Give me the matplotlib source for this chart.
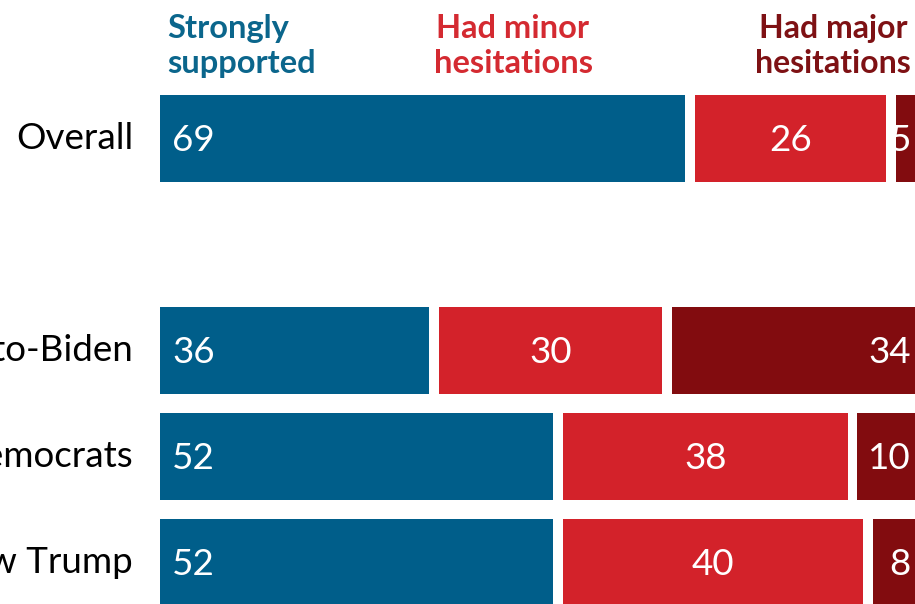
import matplotlib.pyplot as plt
import numpy as np

# rows, top to bottom (blank slot between Overall and the groups)
groups = ['Overall', 'Trump-to-Biden', 'Democrats', 'Voters who knew Trump']
row_pos = [0, 2, 3, 4]

strongly = [69, 36, 52, 52]
minor = [26, 30, 38, 40]
major = [5, 34, 10, 8]

headers = ['Strongly\nsupported', 'Had minor\nhesitations', 'Had major\nhesitations']

blue = '#005e8a'
red = '#d3222a'
dark_red = '#820c0f'
text_colors = ['#0b668c', '#d42a31', '#7e1114']

plt.rcParams['font.family'] = ['Lato', 'DejaVu Sans']

W, H = 915, 604
fig = plt.figure(figsize=(W / 100, H / 100), dpi=100)
left_px = 160
ax = fig.add_axes([left_px / W, 0, 1 - left_px / W, 1])

px_per_unit = 7.75
gap = 10 / px_per_unit
ax.set_xlim(0, (W - left_px) / px_per_unit)
ax.set_ylim(4 + (H - 562.5) / 106, -138.5 / 106)
ax.axis('off')

bar_h = 87 / 106
series = [strongly, minor, major]
colors = [blue, red, dark_red]
starts = np.zeros(len(groups))
for k, vals in enumerate(series):
    vals = np.array(vals, dtype=float)
    ax.barh(row_pos, vals - gap, left=starts, height=bar_h, color=colors[k], linewidth=0)
    for i, v in enumerate(vals):
        y = row_pos[i] + 0.02
        if k == 0:
            ax.text(starts[i] + 12 / px_per_unit, y, f'{int(v)}', color='white',
                    fontsize=26.5, ha='left', va='center')
        elif k == 1:
            ax.text(starts[i] + (v - gap) / 2, y, f'{int(v)}', color='white',
                    fontsize=26.5, ha='center', va='center')
        else:
            ax.text((911 - left_px) / px_per_unit, y, f'{int(v)}', color='white',
                    fontsize=26.5, ha='right', va='center')
    starts += vals

# row labels
for name, y in zip(groups, row_pos):
    ax.text(-27 / px_per_unit, y, name, fontsize=26.5, ha='right', va='center',
            color='black', clip_on=False)

# column headers
fig.text(167 / W, 1 - 46 / H, headers[0], color=text_colors[0], fontsize=23.5,
         fontweight='bold', ha='left', va='center', linespacing=1.26)
fig.text(513 / W, 1 - 46 / H, headers[1], color=text_colors[1], fontsize=23.5,
         fontweight='bold', ha='center', va='center', linespacing=1.26)
fig.text(833 / W, 1 - 46 / H, headers[2], color=text_colors[2], fontsize=23,
         fontweight='bold', ha='center', va='center', linespacing=1.28)

fig.savefig('out.png', dpi=100)
